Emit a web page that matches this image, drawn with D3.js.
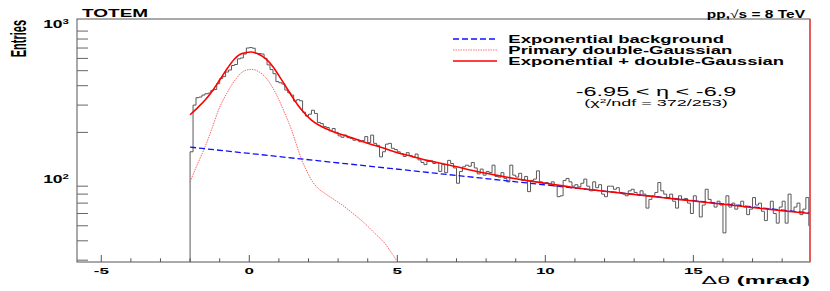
<!DOCTYPE html>
<html>
<head>
<meta charset="utf-8">
<script src="https://cdn.jsdelivr.net/npm/d3@7"></script>
<style>
  body { margin: 0; background: #fff; }
  text { font-family: "Liberation Sans", Arial, Helvetica, sans-serif; }
</style>
</head>
<body>
<svg id="chart" width="830" height="291"></svg>
<script>
// histogram: 0.1 mrad bins starting at -2 mrad
const binStart = -2.0;
const binWidth = 0.1;
const counts = [
  150, 300, 335, 338, 348, 355, 358, 372, 378, 412,
  445, 458, 490, 505, 540, 548, 596, 604, 640, 700,
  705, 698, 648, 645, 640, 600, 545, 508, 478, 425,
  418, 410, 375, 360, 348, 318, 325, 320, 270, 255,
  262, 278, 265, 232, 228, 218, 215, 205, 212, 200,
  190, 186, 192, 185, 183, 178, 180, 174, 177, 188,
  172, 192, 170, 165, 139, 150, 168, 170, 158, 155,
  150, 146, 140, 148, 142, 139, 145, 133, 128, 124,
  130, 131, 126, 128, 112, 124, 110, 132, 126, 118,
  94, 112, 120, 123, 121, 128, 118, 108, 116, 106,
  112, 110, 123, 104, 103, 110, 101, 96, 123, 106,
  103, 109, 98, 104, 83, 98, 100, 113, 96, 94,
  95, 93, 96, 90, 77, 78, 98, 101, 96, 90,
  92, 89, 94, 100, 90, 84, 96, 88, 92, 80,
  77, 90, 90, 86, 88, 82, 80, 78, 84, 86,
  82, 79, 84, 80, 65, 74, 78, 82, 95, 84,
  80, 76, 80, 72, 65, 78, 74, 75, 70, 60,
  78, 72, 57, 68, 86, 74, 70, 66, 72, 68,
  45, 78, 66, 70, 64, 68, 72, 66, 59, 64,
  76, 68, 70, 62, 54, 64, 72, 60, 52, 66,
  72, 52, 80, 62, 66, 70, 59, 64, 76, 50
];

// fitted curves as [delta theta, entries]
const fitTotal = [
  [-2, 260], [-1.75, 288], [-1.5, 322], [-1.25, 370], [-1, 435], [-0.75, 515],
  [-0.5, 595], [-0.25, 645], [0.05, 660], [0.3, 640], [0.55, 598], [0.8, 530],
  [1, 465], [1.2, 405], [1.43, 344], [1.65, 298], [1.88, 264], [2.1, 240],
  [2.33, 224], [2.6, 211], [2.9, 200], [3.3, 189], [3.7, 178], [4.1, 168],
  [4.5, 159], [5, 148], [5.5, 140], [6, 132], [6.5, 126], [7, 120], [7.5, 114],
  [8, 109], [8.5, 104.5], [9, 100.5], [9.5, 97], [10, 94], [11, 88], [12, 83.5],
  [13, 79.5], [14, 75.8], [15, 72.2], [16, 68.8], [17, 65.6], [18, 62.5], [18.94, 60]
];
const fitPrimary = [
  [-2, 96], [-1.75, 125], [-1.49, 162], [-1.25, 215], [-1.04, 279], [-0.75, 360],
  [-0.48, 435], [-0.2, 495], [0.08, 510], [0.3, 495], [0.53, 457], [0.75, 400],
  [0.98, 331], [1.2, 265], [1.43, 207], [1.6, 165], [1.77, 133], [1.95, 112],
  [2.1, 98.5], [2.3, 88], [2.55, 80.9], [2.9, 73], [3.22, 66.2], [3.55, 59],
  [3.9, 51.8], [4.25, 44.5], [4.58, 38.5], [4.85, 32.5], [5.05, 29.2],
  [6, 20], [8, 8], [18.94, 1]
];
const fitBackground = [[-2, 160.7], [18.94, 60.4]];

const xMajorTicks = [-5, 0, 5, 10, 15];
const yLabelTicks = [100, 1000];

const legendItems = ["Exponential background", "Primary double-Gaussian", "Exponential + double-Gaussian"];

const svg = d3.select("#chart");
const mLeft = 77, mRight = 810, mTop = 19, mBottom = 262;

const x = d3.scaleLinear().domain([-5.82, 18.94]).range([mLeft, mRight]);
const y = d3.scaleLog().domain([29.2, 1077]).range([mBottom, mTop]).clamp(true);

// squashed text helper (the picture is compressed vertically)
function label(px, py, sy) {
  return svg.append("g").attr("transform", `translate(${px},${py}) scale(1,${sy})`).append("text");
}

svg.append("defs").append("clipPath").attr("id", "plot")
  .append("rect").attr("x", mLeft).attr("y", mTop).attr("width", mRight - mLeft).attr("height", mBottom - mTop);

const plot = svg.append("g").attr("clip-path", "url(#plot)");

// histogram
const histPts = [[binStart, y.domain()[0]]];
counts.forEach((c, i) => histPts.push([binStart + i * binWidth, c]));
histPts.push([binStart + counts.length * binWidth, counts[counts.length - 1]]);
const step = d3.line().x(d => x(d[0])).y(d => y(d[1])).curve(d3.curveStepAfter);
plot.append("path")
  .attr("d", step(histPts))
  .attr("fill", "none").attr("stroke", "#595959").attr("stroke-width", 1);

const smooth = d3.line().x(d => x(d[0])).y(d => y(d[1])).curve(d3.curveMonotoneX);

plot.append("path").attr("d", smooth(fitPrimary))
  .attr("fill", "none").attr("stroke", "#ff6464").attr("stroke-width", 1)
  .attr("stroke-dasharray", "1.5,1");
plot.append("path").attr("d", smooth(fitBackground))
  .attr("fill", "none").attr("stroke", "#1010ff").attr("stroke-width", 1.3)
  .attr("stroke-dasharray", "6,3");
plot.append("path").attr("d", smooth(fitTotal))
  .attr("fill", "none").attr("stroke", "#ff0000").attr("stroke-width", 1.6);

// frame
svg.append("rect").attr("x", mLeft).attr("y", mTop).attr("width", mRight - mLeft).attr("height", mBottom - mTop)
  .attr("fill", "none").attr("stroke", "#555").attr("stroke-width", 1);
svg.append("line")
  .attr("x1", x.range()[1]).attr("x2", x.range()[1]).attr("y1", y.range()[1]).attr("y2", y.range()[0])
  .attr("stroke", "#ff4040").attr("stroke-width", 1.5);

// x ticks
d3.range(-5, 19).forEach(v => {
  const major = xMajorTicks.includes(v);
  svg.append("line").attr("x1", x(v)).attr("x2", x(v))
    .attr("y1", mBottom).attr("y2", mBottom - (major ? 7 : 3.7))
    .attr("stroke", "#555").attr("stroke-width", 1);
});
xMajorTicks.forEach(v => {
  label(x(v), 274, 0.55).attr("text-anchor", "middle").attr("font-size", 17)
    .attr("font-weight", "bold").text(v < 0 ? "-" + Math.abs(v) : v);
});

// y ticks (minor)
[10, 100, 1000].forEach(dec => {
  d3.range(2, 10).forEach(m => {
    const v = dec * m;
    if (v < y.domain()[0] || v > y.domain()[1]) return;
    svg.append("line").attr("x1", mLeft).attr("x2", mLeft + 11)
      .attr("y1", y(v)).attr("y2", y(v)).attr("stroke", "#666").attr("stroke-width", 1);
  });
});
yLabelTicks.forEach(v => {
  const t = label(69, y(v) + 3.8, 0.6).attr("text-anchor", "end").attr("font-weight", "bold");
  t.append("tspan").attr("font-size", 17.5).text("10");
  t.append("tspan").attr("font-size", 11.5).attr("dy", -7).text(Math.round(Math.log10(v)));
});

// axis titles
label(25.5, 20, 0.5).attr("transform", "rotate(-90)").attr("text-anchor", "end")
  .attr("font-size", 22).attr("font-weight", "bold").text("Entries");
const xt = label(810, 283.5, 0.47).attr("text-anchor", "end").attr("font-size", 23.5);
xt.append("tspan").text("Δθ");
xt.append("tspan").attr("font-weight", "bold").text(" (mrad)");

// header texts
label(82, 17.3, 0.55).attr("font-size", 19).attr("font-weight", "bold").text("TOTEM");
const hd = label(805, 17.5, 0.72).attr("text-anchor", "end").attr("font-size", 15.5);
hd.append("tspan").attr("font-weight", "bold").text("pp,");
hd.append("tspan").text("√");
hd.append("tspan").attr("font-weight", "bold").text("s = 8 TeV");

// legend
const legendStyles = [
  { color: "#1010ff", width: 1.3, dash: "6,3" },
  { color: "#ff7070", width: 1, dash: "1.5,1" },
  { color: "#ff0000", width: 1.6, dash: null }
];
legendItems.forEach((name, i) => {
  const ly = 39 + i * 11;
  const s = legendStyles[i];
  svg.append("line").attr("x1", 453).attr("x2", 497).attr("y1", ly).attr("y2", ly)
    .attr("stroke", s.color).attr("stroke-width", s.width).attr("stroke-dasharray", s.dash);
  label(508.3, ly + 3.6, 0.57).attr("font-size", 18.5).attr("font-weight", "bold").text(name);
});

// annotation
label(656, 96, 0.52).attr("text-anchor", "middle").attr("font-size", 23.5).text("-6.95 < η < -6.9");
const chi = label(656, 105.5, 0.47).attr("text-anchor", "middle").attr("font-size", 18);
chi.append("tspan").text("(χ");
chi.append("tspan").attr("font-size", 12).attr("dy", -6).text("2");
chi.append("tspan").attr("dy", 6).text("/ndf = 372/253)");
</script>
</body>
</html>
